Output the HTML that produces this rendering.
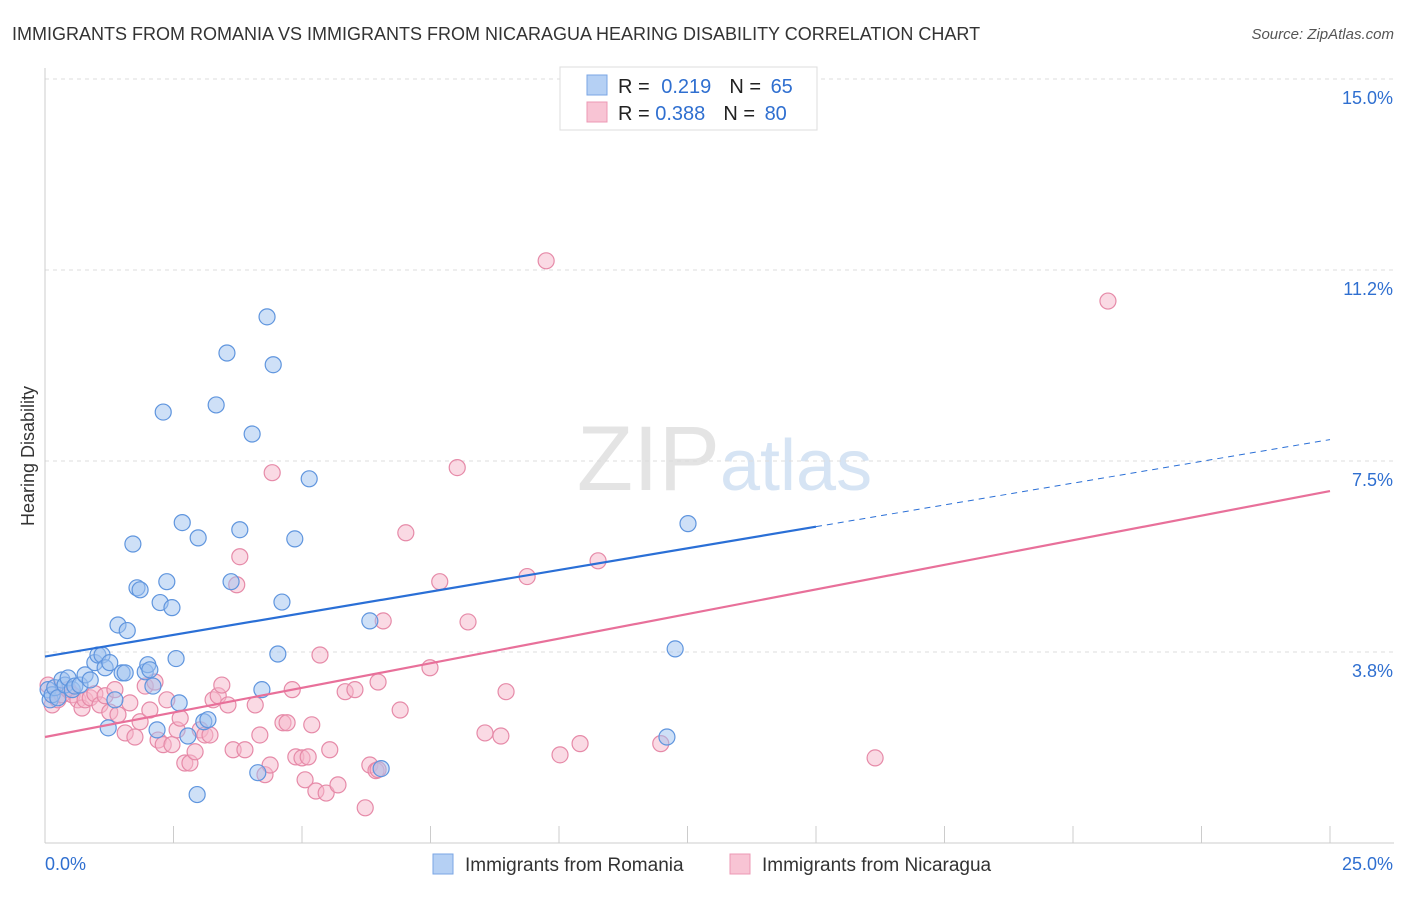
<!DOCTYPE html>
<html><head><meta charset="utf-8"><style>
body{margin:0;background:#fff;font-family:"Liberation Sans",sans-serif;}
svg text{font-family:"Liberation Sans",sans-serif;}
</style></head><body>
<svg id="chart" width="1406" height="892" xmlns="http://www.w3.org/2000/svg">
<text x="12" y="40" font-size="18" fill="#333">IMMIGRANTS FROM ROMANIA VS IMMIGRANTS FROM NICARAGUA HEARING DISABILITY CORRELATION CHART</text>
<text x="1394" y="39" font-size="15" fill="#555" text-anchor="end" font-style="italic">Source: ZipAtlas.com</text>
<text x="720" y="490" font-size="92" fill="#e4e4e4" text-anchor="end" font-family="Liberation Serif">ZIP</text>
<text x="720" y="490" font-size="72" fill="#d6e4f4">atlas</text>
<text transform="translate(34,456) rotate(-90)" font-size="18" fill="#333" text-anchor="middle">Hearing Disability</text>
<g id="grid"></g>
<g id="axes"></g>
<g id="pts"></g>
<g id="lines"></g>
<g>
<rect x="560" y="67" width="257" height="63" fill="#fff" stroke="#ddd"/>
<rect x="587" y="75" width="20" height="20" fill="#b5d0f4" stroke="#7aa6e4"/>
<rect x="587" y="102" width="20" height="20" fill="#f8c4d4" stroke="#ec98b4"/>
<text x="618" y="93" font-size="20" fill="#222">R = <tspan fill="#2f6fd0" dx="6">0.219</tspan><tspan dx="18" fill="#222">N = </tspan><tspan fill="#2f6fd0" dx="4">65</tspan></text>
<text x="618" y="120" font-size="20" fill="#222">R = <tspan fill="#2f6fd0">0.388</tspan><tspan dx="18" fill="#222">N = </tspan><tspan fill="#2f6fd0" dx="4">80</tspan></text>
</g>
<g>
<rect x="433" y="854" width="20" height="20" fill="#b5d0f4" stroke="#7aa6e4"/>
<text x="465" y="871" font-size="19" fill="#333">Immigrants from Romania</text>
<rect x="730" y="854" width="20" height="20" fill="#f8c4d4" stroke="#ec98b4"/>
<text x="762" y="871" font-size="19" fill="#333">Immigrants from Nicaragua</text>
</g>
</svg>
<script>
const yTicks=[15.0,11.25,7.5,3.75];
const yTickLabels=["15.0%","11.2%","7.5%","3.8%"];
const xTicks=[0,2.5,5,7.5,10,12.5,15,17.5,20,22.5,25];
const xEndLabels=["0.0%","25.0%"];
const romaniaX=[0.06,0.10,0.14,0.19,0.25,0.33,0.39,0.45,0.53,0.58,0.68,0.78,0.88,0.97,1.03,1.11,1.17,1.26,1.23,1.36,1.42,1.50,1.56,1.60,1.71,1.79,1.85,1.95,2.00,2.04,2.10,2.18,2.24,2.30,2.37,2.47,2.55,2.61,2.67,2.78,2.96,2.98,3.09,3.17,3.33,3.54,3.62,3.79,4.03,4.14,4.22,4.32,4.44,4.53,4.61,4.86,5.14,6.32,6.54,12.10,12.26,12.51];
const romaniaY=[3.01,2.81,2.91,3.05,2.85,3.20,3.10,3.24,3.01,3.08,3.10,3.30,3.20,3.54,3.69,3.69,3.44,3.54,2.26,2.81,4.28,3.34,3.34,4.17,5.87,5.01,4.97,3.36,3.50,3.40,3.08,2.22,4.72,8.46,5.13,4.62,3.62,2.75,6.29,2.10,0.95,5.99,2.38,2.42,8.60,9.62,5.13,6.15,8.03,1.38,3.01,10.33,9.39,3.71,4.73,5.97,7.15,4.36,1.46,2.08,3.81,6.27];
const nicaraguaX=[0.06,0.14,0.25,0.33,0.45,0.53,0.64,0.72,0.78,0.88,0.97,1.07,1.17,1.26,1.36,1.42,1.56,1.65,1.75,1.85,1.95,2.04,2.14,2.20,2.30,2.37,2.47,2.57,2.63,2.72,2.82,2.92,3.02,3.11,3.21,3.27,3.37,3.44,3.56,3.66,3.73,3.79,3.89,4.09,4.18,4.28,4.38,4.42,4.63,4.71,4.81,4.88,5.00,5.06,5.12,5.19,5.27,5.35,5.47,5.54,5.70,5.84,6.03,6.23,6.32,6.44,6.48,6.58,6.91,7.02,7.49,7.68,8.02,8.23,8.56,8.87,8.97,9.38,9.75,10.02,10.41,10.76,11.98,16.15,20.68,6.48];
const nicaraguaY=[3.10,2.71,2.81,2.91,3.01,2.91,2.81,2.65,2.81,2.85,2.93,2.71,2.89,2.57,3.01,2.52,2.16,2.75,2.08,2.38,3.08,2.61,3.16,2.02,1.93,2.81,1.93,2.22,2.45,1.57,1.57,1.79,2.22,2.12,2.12,2.81,2.89,3.10,2.71,1.83,5.07,5.62,1.83,2.71,2.12,1.34,1.53,7.27,2.36,2.36,3.01,1.69,1.67,1.24,1.69,2.32,1.02,3.69,0.98,1.83,1.14,2.97,3.01,0.69,1.53,1.42,3.16,4.36,2.61,6.09,3.44,5.13,7.37,4.34,2.16,2.10,2.97,5.23,11.43,1.73,1.95,5.54,1.95,1.67,10.64,1.44];
const romaniaTrend=[3.66,6.21,7.92];
const nicaraguaTrend=[2.08,6.91];
const NS="http://www.w3.org/2000/svg";
function sx(v){return 45+v/25*1285;}
function sy(v){return 79+(15-v)*50.93;}
function mk(t,a,p){const e=document.createElementNS(NS,t);for(const k in a)e.setAttribute(k,a[k]);p.appendChild(e);return e;}
const grid=document.getElementById('grid'),axes=document.getElementById('axes'),pts=document.getElementById('pts'),lines=document.getElementById('lines');
yTicks.forEach((v,i)=>{
 const l=mk('line',{x1:45,x2:1394,y1:sy(v),y2:sy(v),stroke:'#ddd','stroke-dasharray':'4,4'},grid);
 
 
 const t=mk('text',{x:1393,y:sy(v)+25,'font-size':18,fill:'#2f6fd0','text-anchor':'end'},axes);
 t.textContent=yTickLabels[i];
 
 
});
const ax=mk('line',{x1:45,x2:1394,y1:843,y2:843,stroke:'#ccc'},axes);


const ay=mk('line',{x1:45,x2:45,y1:68,y2:843,stroke:'#ccc'},axes);


xTicks.forEach(v=>{
 const l=mk('line',{x1:sx(v),x2:sx(v),y1:826,y2:843,stroke:'#ccc'},axes);
 
 
});
[[0,'start'],[25,'end']].forEach((p,i)=>{
 const t=mk('text',{x:i?1393:45,y:870,'font-size':18,fill:'#2f6fd0','text-anchor':p[1]},axes);
 t.textContent=xEndLabels[i];
 
 
});
function dots(X,Y,fill,stroke,name){
 X.forEach((x,i)=>{
  const c=mk('circle',{cx:sx(x),cy:sy(Y[i]),r:8,fill:fill,'fill-opacity':0.5,stroke:stroke,'stroke-width':1.2},pts);
  
  
 });
}
dots(nicaraguaX,nicaraguaY,'#f5b6ca','#e68aa8','nicaragua-point');
dots(romaniaX,romaniaY,'#9ec2f0','#5f95de','romania-point');
const b1=mk('line',{x1:sx(0),y1:sy(romaniaTrend[0]),x2:sx(15),y2:sy(romaniaTrend[1]),stroke:'#2a6fd6','stroke-width':2.2},lines);


const b2=mk('line',{x1:sx(15),y1:sy(romaniaTrend[1]),x2:sx(25),y2:sy(romaniaTrend[2]),stroke:'#2a6fd6','stroke-width':1,'stroke-dasharray':'6,5'},lines);


const p1=mk('line',{x1:sx(0),y1:sy(nicaraguaTrend[0]),x2:sx(25),y2:sy(nicaraguaTrend[1]),stroke:'#e8709a','stroke-width':2.2},lines);


</script>
</body></html>
